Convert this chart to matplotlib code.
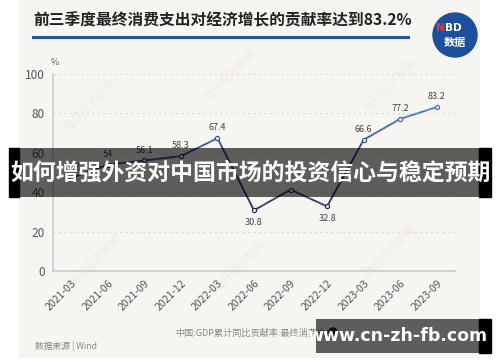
import matplotlib
matplotlib.use("Agg")
import matplotlib.pyplot as plt
import numpy as np
from matplotlib.collections import LineCollection
from matplotlib.colors import LinearSegmentedColormap
from matplotlib.patches import Rectangle, Circle

plt.rcParams['font.family'] = ['Noto Sans CJK SC', 'DejaVu Sans']

categories = ["2021-03", "2021-06", "2021-09", "2021-12", "2022-03", "2022-06",
              "2022-09", "2022-12", "2023-03", "2023-06", "2023-09"]
values = [47.2, 54, 56.1, 58.3, 67.4, 30.8, 41.3, 32.8, 66.6, 77.2, 83.2]
labels = ["47.2", "54", "56.1", "58.3", "67.4", "30.8", "", "32.8", "66.6", "77.2", "83.2"]
yticks = [0, 20, 40, 60, 80, 100]

title = "前三季度最终消费支出对经济增长的贡献率达到83.2%"
legend_text = "中国:GDP累计同比贡献率:最终消费支出"
source_text = "数据来源 | Wind"
overlay_text = "如何增强外资对中国市场的投资信心与稳定预期"
site_text = "www.cn-zh-fb.com"

W, H = 500, 362
fig = plt.figure(figsize=(W / 100, H / 100), dpi=100)
fig.patch.set_facecolor("white")

# background panel
bg = fig.add_axes([0, 0, 1, 1])
bg.set_xlim(0, W)
bg.set_ylim(H, 0)
bg.axis("off")
bg.add_patch(Rectangle((19, 0), 460, 357, color="#f7f5f1", zorder=0))

# faint watermarks
for (wx, wy) in [(90, 105), (230, 75), (390, 85), (95, 260), (240, 265), (390, 250)]:
    bg.text(wx, wy, "每日经济新闻", rotation=45, fontsize=8, color="#eeebe6",
            ha="center", va="center", zorder=1)

# title
bg.text(33, 20, title, fontsize=11.3, fontweight="bold", color="#222222",
        ha="left", va="center", zorder=2)
bg.plot([33, 408], [37, 37], color="#1f56a8", lw=2.2, zorder=2)
# logo
bg.add_patch(Circle((455, 35), 22, color="#1c4f9c", zorder=2))
bg.text(445, 28, "N", fontsize=7.5, fontweight="bold", color="#e23b3b",
        ha="right", va="center", zorder=4, family=["DejaVu Sans"])
bg.text(445, 28, "BD", fontsize=7.5, fontweight="bold", color="white",
        ha="left", va="center", zorder=3, family=["DejaVu Sans"])
bg.text(455, 42, "数据", fontsize=8, fontweight="bold", color="white",
        ha="center", va="center", zorder=3)

# main chart
ax = fig.add_axes([53 / W, 1 - 271 / H, (455 - 53) / W, (271 - 74) / H])
ax.set_facecolor("none")
x = np.arange(len(categories))
ax.set_xlim(-0.5, len(categories) - 0.5)
ax.set_ylim(0, 100)
ax.set_yticks(yticks)
ax.set_yticklabels([str(t) for t in yticks], fontsize=8.5, color="#555555")
ax.set_xticks(x)
ax.set_xticklabels(categories, rotation=45, ha="right", rotation_mode="anchor",
                   fontsize=7.5, color="#555555")
ax.tick_params(length=0, pad=6)
ax.tick_params(axis="x", pad=5)
for t in yticks[1:]:
    ax.axhline(t, color="#dcd8d2", lw=0.8, ls=(0, (2, 3)), zorder=1)
for s in ["top", "right"]:
    ax.spines[s].set_visible(False)
ax.spines["left"].set_color("#cccccc")
ax.spines["bottom"].set_color("#cccccc")
ax.spines["left"].set_linewidth(1.2)
ax.spines["bottom"].set_linewidth(1.2)
ax.text(-0.45, 103.5, "%", fontsize=6.5, color="#666666", ha="center", va="bottom")

cmap = LinearSegmentedColormap.from_list("c", ["#14244f", "#1c3270", "#3f6bd0"])
xs = np.linspace(0, len(categories) - 1, 400)
ys = np.interp(xs, x, values)
pts = np.array([xs, ys]).T.reshape(-1, 1, 2)
segs = np.concatenate([pts[:-1], pts[1:]], axis=1)
lc = LineCollection(segs, cmap=cmap, norm=plt.Normalize(30, 84), lw=1.3, zorder=3)
lc.set_array((ys[:-1] + ys[1:]) / 2)
ax.add_collection(lc)
for xi, v in zip(x, values):
    ax.plot(xi, v, "o", ms=3, mfc="#f7f5f1", mec=cmap((v - 30) / 54), mew=0.8, zorder=4)
for xi, v, lab in zip(x, values, labels):
    if lab:
        dy = -4 if lab in ("30.8", "32.8") else 3
        va = "top" if dy < 0 else "bottom"
        ax.text(xi, v + dy, lab, fontsize=6.5, color="#444444", ha="center", va=va, zorder=5)

# legend & source
bg.text(175, 333, legend_text, fontsize=6.6, color="#888888", ha="left", va="center", zorder=2)
bg.add_patch(Circle((333, 332), 4, color="#14244f", zorder=2))
bg.text(35, 346, source_text, fontsize=6.3, color="#888888", ha="left", va="center", zorder=2)

# overlay layer on top of everything (semi-transparent)
ov = fig.add_axes([0, 0, 1, 1])
ov.set_xlim(0, W)
ov.set_ylim(H, 0)
ov.axis("off")
ov.patch.set_alpha(0)
ov.add_patch(Rectangle((9, 148), 10, 49, color="black", zorder=10))
ov.add_patch(Rectangle((479, 148), 12, 49, color="black", zorder=10))
ov.add_patch(Rectangle((19, 148), 460, 49, color="black", alpha=0.62, lw=0, zorder=11))
ov.text(250, 173, overlay_text, fontsize=16.5, fontweight="bold", color="white",
        ha="center", va="center", zorder=12)

ov.add_patch(Rectangle((479, 319), 12, 34, color="black", zorder=10))
ov.add_patch(Rectangle((316, 319), 163, 34, color="black", alpha=0.62, lw=0, zorder=11))
ov.text(397, 336, site_text, fontsize=12.5, fontweight="bold", color="white",
        ha="center", va="center", zorder=12, family=["DejaVu Sans"])

fig.savefig("out.png", dpi=100, facecolor=fig.get_facecolor())
